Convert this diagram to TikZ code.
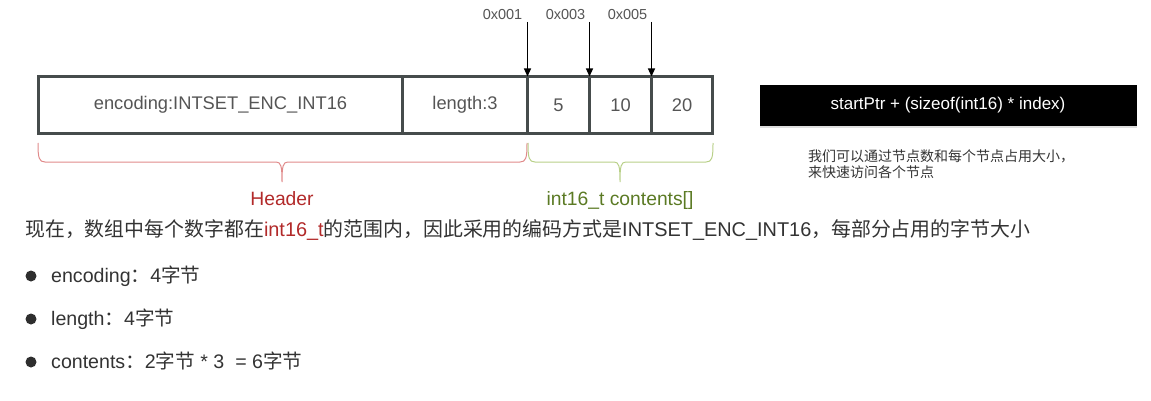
\documentclass[tikz,border=0pt]{standalone}
\usepackage{fontspec}
\setmainfont{Liberation Sans}
\newfontfamily\cjk{Noto Sans CJK SC}
\usepackage{xcolor}
\usetikzlibrary{arrows.meta, positioning, shadows}
\definecolor{boxline}{HTML}{464C4C}
\definecolor{celltext}{HTML}{555555}
\definecolor{bodytext}{HTML}{333333}
\definecolor{hdrred}{HTML}{B22A2A}
\definecolor{hdrbrace}{HTML}{E08A8A}
\definecolor{ctgreen}{HTML}{5B7A24}
\definecolor{ctbrace}{HTML}{B8D088}
\tikzset{
  cell/.style={rectangle, draw=boxline, line width=3pt, outer sep=0pt, inner sep=0pt,
    minimum height=57pt, text=celltext, font=\fontsize{18.3}{22}\selectfont},
  addr/.style={anchor=base east, text=celltext, inner sep=0pt, font=\fontsize{14.5}{17}\selectfont},
  ptrarrow/.style={-{Triangle[length=8pt,width=7pt]}, line width=1.2pt, black},
  hdrbr/.style={draw=hdrbrace, line width=1pt},
  ctbr/.style={draw=ctbrace, line width=1pt},
  brlabel/.style={anchor=base, inner sep=0pt, font=\fontsize{19.3}{23}\selectfont},
  formula/.style={rectangle, fill=black, text=white, minimum width=377pt, minimum height=41pt,
    font=\fontsize{17}{20}\selectfont, drop shadow={opacity=0.25, shadow xshift=0pt, shadow yshift=-2pt}},
  note/.style={anchor=base west, align=left, inner sep=0pt, text=bodytext, font=\cjk\fontsize{14}{16}\selectfont},
  line/.style={anchor=base west, inner sep=0pt, text=bodytext, font=\fontsize{19.6}{23}\selectfont},
  dot/.style={circle, fill=bodytext!90!black, inner sep=0pt, minimum size=11pt}
}

\begin{document}
\begin{tikzpicture}[x=1pt, y=-1pt]
  \useasboundingbox (0,0) rectangle (1151,401);

  % the intset layout
  \node[cell, minimum width=364pt] (enc) at (220.5,105) {encoding:INTSET\_ENC\_INT16};
  \node[cell, minimum width=125pt, right=0pt of enc] (len) {length:3};
  \node[cell, minimum width=62pt, right=0pt of len] (v5) {5};
  \node[cell, minimum width=62pt, right=0pt of v5] (v10) {10};
  \node[cell, minimum width=61pt, right=0pt of v10] (v20) {20};

  % addresses
  \coordinate (a1) at (527.5,22);
  \coordinate (a3) at (589.5,22);
  \coordinate (a5) at (651.5,22);
  \node[addr] (l1) at ([xshift=-5pt, yshift=2pt]a1) {0x001};
  \node[addr] (l3) at ([xshift=-4pt, yshift=2pt]a3) {0x003};
  \node[addr] (l5) at ([xshift=-4pt, yshift=2pt]a5) {0x005};
  \draw[ptrarrow] (a1) -- (len.north east);
  \draw[ptrarrow] (a3) -- (v5.north east);
  \draw[ptrarrow] (a5) -- (v10.north east);

  % braces
  \draw[hdrbr] (38,143) .. controls (38,158) and (39,162) .. (45,162) -- (276,162)
    .. controls (281,162) and (282,166) .. (282,182)
    .. controls (282,166) and (283,162) .. (288,162) -- (520,162)
    .. controls (526,162) and (527,158) .. (527,143);
  \draw[ctbr] (528,143) .. controls (528,158) and (529,162) .. (535,162) -- (614,162)
    .. controls (619,162) and (620,166) .. (620,182)
    .. controls (620,166) and (621,162) .. (626,162) -- (706,162)
    .. controls (712,162) and (713,158) .. (713,143);
  \node[brlabel, text=hdrred] (hdr) at (282,205) {Header};
  \node[brlabel, text=ctgreen] (ct) at (620,205) {int16\_t contents[]};

  % address formula
  \node[formula] (calc) at (948,105.5) {startPtr + (sizeof(int16) * index)};
  \node[note] (tip) at (808,177) {我们可以通过节点数和每个节点占用大小，\\来快速访问各个节点};

  % explanation
  \node[line, font=\fontsize{19.9}{23}\selectfont] (intro) at (25,236) {{\cjk 现在，数组中每个数字都在}\textcolor{hdrred}{int16\_t}{\cjk 的范围内，因此采用的编码方式是}INTSET\_ENC\_INT16{\cjk ，每部分占用的字节大小}};
  \node[dot] (b1) at (31,276) {};
  \node[dot] (b2) at (31,319) {};
  \node[dot] (b3) at (31,362) {};
  \node[line] (i1) at (51,282) {encoding{\cjk ：}4{\cjk 字节}};
  \node[line] (i2) at (51,325) {length{\cjk ：}4{\cjk 字节}};
  \node[line] (i3) at (51,368) {contents{\cjk ：}2{\cjk 字节} * 3~ = 6{\cjk 字节}};
\end{tikzpicture}
\end{document}
